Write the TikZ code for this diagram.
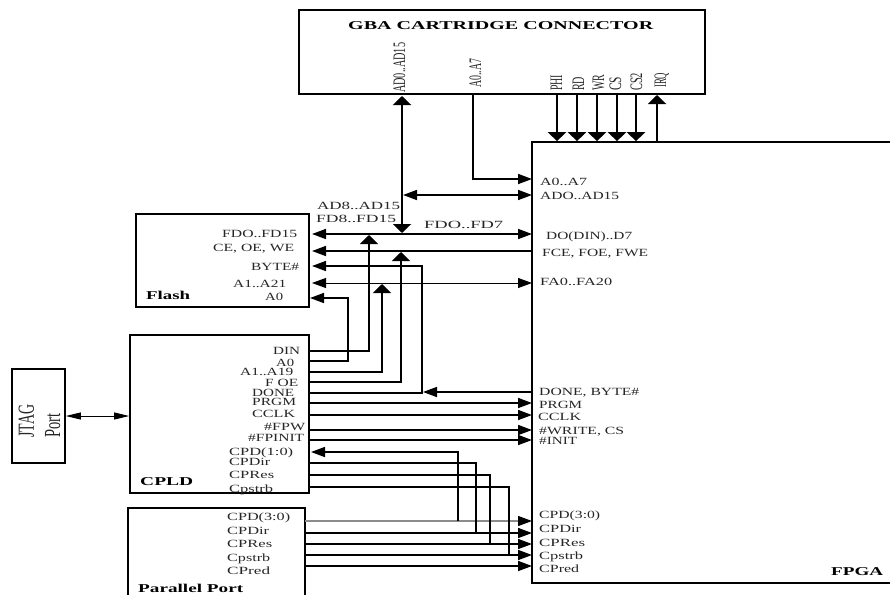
\documentclass[tikz,border=0pt]{standalone}
\usepackage{fontspec}
\usepackage{graphicx}
\setmainfont{Liberation Serif}
\usetikzlibrary{arrows.meta}
\tikzset{
  box/.style={draw=black,line width=1.7pt,inner sep=0,fill=none},
  wire/.style={draw=black,line width=1.6pt},
  thinwire/.style={draw=black,line width=0.9pt},
  risewire/.style={draw=black,line width=2.2pt},
  lab/.style={inner sep=0,anchor=base west,text=black!85,font=\fontsize{11}{11}\selectfont},
  blab/.style={inner sep=0,anchor=base west,text=black,font=\fontsize{12}{12}\selectfont\bfseries},
  vlab/.style={inner sep=0,anchor=base west,rotate=90,text=black!85,font=\fontsize{10}{10}\selectfont},
  ht/.tip={Triangle[length=14pt,width=10pt]},
  vt/.tip={Triangle[length=9pt,width=18pt]},
  st/.tip={Triangle[length=15pt,width=7pt]},
  gt/.tip={Triangle[length=14pt,width=10pt,color=black]},
}
\newcommand{\lb}[5]{\node[lab] (#1) at (#2,{#3+3.6}) {\resizebox{#4pt}{\height}{#5}};}
\newcommand{\bl}[5]{\node[blab] (#1) at (#2,{#3+4}) {\resizebox{#4pt}{\height}{#5}};}
% name, baseline x, bottom y, length, text
\newcommand{\vl}[5]{\node[vlab] (#1) at (#2,#3) {\resizebox{#4pt}{1.75\height}{#5}};}
\newcommand{\vb}[5]{\node[vlab] (#1) at (#2,#3) {\resizebox{#4pt}{2.3\height}{#5}};}
\begin{document}
\begin{tikzpicture}[x=1pt,y=-1pt]
\useasboundingbox (0,0) rectangle (890,594);
% boxes
\node[box,minimum width=406pt,minimum height=84pt] (gba) at (502,52) {};
\node[box,minimum width=370pt,minimum height=441pt] (fpga) at (717,362.5) {};
\node[box,minimum width=173pt,minimum height=93pt] (flash) at (222.5,260.5) {};
\node[box,minimum width=179pt,minimum height=158pt] (cpld) at (219.5,414) {};
\node[box,minimum width=177pt,minimum height=100pt] (par) at (216.5,558) {};
\node[box,minimum width=53pt,minimum height=94pt] (jtag) at (38.5,416) {};
% pin coordinates
\foreach \n/\x in {pAD/402,pA/473,pPHI/557,pRD/577,pWR/597,pCS/617,pCSB/636,pIRQ/657}{\coordinate (\n) at (\x,94);}
\coordinate (pADt) at (402,96);
\coordinate (busJ) at (403,233);
\coordinate (busS) at (403,195);
\foreach \n/\y in {fA/179,fAD/195,fD/234,fC/251,fF/283,fDN/392,fPR/403,fCK/415,fWR/430,fIN/440,
  fP3/521,fPD/533,fPR2/544,fPS/555,fPP/566}{\coordinate (\n) at (532,\y);}
\foreach \n/\y in {flD/234,flC/251,flB/266,flF/283}{\coordinate (\n) at (312,\y);}
\coordinate (flA) at (310,298);
\foreach \n/\y in {cDIN/351,cA0/361,cA1/372,cOE/382,cDN/393,cPR/403,cCK/415,cWR/430,cIN/440,cDir/463,cRes/475,cStr/487}{\coordinate (\n) at (309,\y);}
\coordinate (cP) at (311,452);
\foreach \n/\y in {q3/521,qD/533,qR/544,qS/555,qP/566}{\coordinate (\n) at (305,\y);}
\coordinate (tDIN) at (369,235);
\coordinate (tA1) at (382,284);
\coordinate (tOE) at (401,252);
\coordinate (kA0) at (348,298);
\coordinate (kB) at (422,266);
\coordinate (kDN) at (423,392);
\coordinate (j3) at (458,521);
\coordinate (jD) at (476,533);
\coordinate (jR) at (490,544);
\coordinate (jS) at (509,555);
% connector to GBA
\draw[risewire,{vt}-{vt}] (pADt) -- (pADt |- busJ);
\draw[wire,-{ht}] (pA) |- (fA);
\draw[wire,{ht}-{ht}] (busS) -- (fAD);
\foreach \n in {pPHI,pRD,pWR,pCS,pCSB}{\draw[risewire,-{vt}] (\n) -- (\n |- fpga.north);}
\draw[risewire,{vt}-] (pIRQ) ++(0,1) -- (pIRQ |- fpga.north);
% flash buses
\draw[wire,{ht}-{ht}] (flD) -- (fD);
\draw[wire,{ht}-] (flC) -- (fC);
\draw[wire,{ht}-] (flB) -- (kB) -- (kB |- cDN) -- (cDN);
\draw[thinwire,{ht}-{ht}] (flF) -- (fF);
\draw[wire,-{ht}] (cA0) -| (kA0) -- (flA);
\draw[wire,-{vt}] (cDIN) -| (tDIN);
\draw[wire,-{vt}] (cA1) -| (tA1);
\draw[wire,-{vt}] (cOE) -| (tOE);
\draw[wire,-{ht}] (fDN) -- (kDN);
\foreach \a/\b in {cPR/fPR,cCK/fCK,cWR/fWR,cIN/fIN}{\draw[wire,-{ht}] (\a) -- (\b);}
% parallel
\draw[draw=black!45,line width=1.2pt,-{gt}] (q3) -- (fP3);
\foreach \a/\b in {qD/fPD,qR/fPR2,qS/fPS,qP/fPP}{\draw[wire,-{ht}] (\a) -- (\b);}
\draw[wire,-{ht}] (j3) |- (cP);
\draw[wire] (jD) |- (cDir);
\draw[wire] (jR) |- (cRes);
\draw[wire] (jS) |- (cStr);
% jtag
\draw[thinwire,{st}-{st}] (jtag.east) -- (cpld.west |- jtag.east);
% text
\bl{tGBA}{348}{26}{305}{GBA CARTRIDGE CONNECTOR}
\vl{vAD}{405}{93}{50}{AD0..AD15}
\vl{vA}{481}{88}{29}{A0..A7}
\vl{vPHI}{562}{91}{16}{PHI}
\vl{vRD}{584}{91}{14}{RD}
\vl{vWR}{604}{91}{16}{WR}
\vl{vCS}{621}{91}{14}{CS}
\vl{vCSB}{642}{91}{18}{CS2}
\vl{vIRQ}{666}{88}{15}{IRQ}
\lb{aA}{540}{182}{47}{A0..A7}
\lb{aAD}{540}{195.5}{79}{ADO..AD15}
\lb{aD}{546}{236}{86}{DO(DIN)..D7}
\lb{aC}{542}{253}{106}{FCE, FOE, FWE}
\lb{aF}{540}{282}{72}{FA0..FA20}
\lb{aDN}{539}{392}{100}{DONE, BYTE\#}
\lb{aPR}{539}{405}{43}{PRGM}
\lb{aCK}{538}{417}{43}{CCLK}
\lb{aWR}{539}{431}{85}{\#WRITE, CS}
\lb{aIN}{539}{441}{38}{\#INIT}
\lb{aP3}{539}{515}{61}{CPD(3:0)}
\lb{aPD}{539}{529}{42}{CPDir}
\lb{aPR2}{539}{543}{46}{CPRes}
\lb{aPS}{539}{556}{44}{Cpstrb}
\lb{aPP}{539}{569}{40}{CPred}
\bl{tFPGA}{831}{571}{52}{FPGA}
\lb{bAD}{317}{206}{83}{AD8..AD15}
\lb{bFD}{316}{219}{80}{FD8..FD15}
\lb{bF7}{424}{225}{79}{FDO..FD7}
\lb{lD}{222}{234}{75}{FDO..FD15}
\lb{lC}{213}{248}{81}{CE, OE, WE}
\lb{lB}{251}{267}{48}{BYTE\#}
\lb{lF}{233}{284}{53}{A1..A21}
\lb{lA}{265}{297}{18}{A0}
\bl{tFlash}{146}{295}{44}{Flash}
\lb{mDIN}{273}{351}{27}{DIN}
\lb{mA0}{276}{363}{18}{A0}
\lb{mA1}{240}{372}{53}{A1..A19}
\lb{mOE}{265}{383}{33}{F OE}
\lb{mDN}{252}{393}{42}{DONE}
\lb{mPR}{252}{402}{44}{PRGM}
\lb{mCK}{252}{414}{43}{CCLK}
\lb{mWR}{264}{427}{41}{\#FPW}
\lb{mIN}{248}{438}{56}{\#FPINIT}
\lb{mP}{229}{452}{64}{CPD(1:0)}
\lb{mDir}{229}{462}{41}{CPDir}
\lb{mRes}{229}{475}{45}{CPRes}
\lb{mStr}{229}{489}{44}{Cpstrb}
\bl{tCPLD}{140}{481}{53}{CPLD}
\lb{r3}{227}{517}{63}{CPD(3:0)}
\lb{rD}{227}{531}{42}{CPDir}
\lb{rR}{227}{544}{45}{CPRes}
\lb{rS}{227}{558}{43}{Cpstrb}
\lb{rP}{227}{571}{43}{CPred}
\bl{tPar}{138}{588}{105}{Parallel Port}
\vb{jJ}{34}{438}{33}{JTAG}
\vb{jP}{60}{438}{24}{Port}
\end{tikzpicture}
\end{document}
